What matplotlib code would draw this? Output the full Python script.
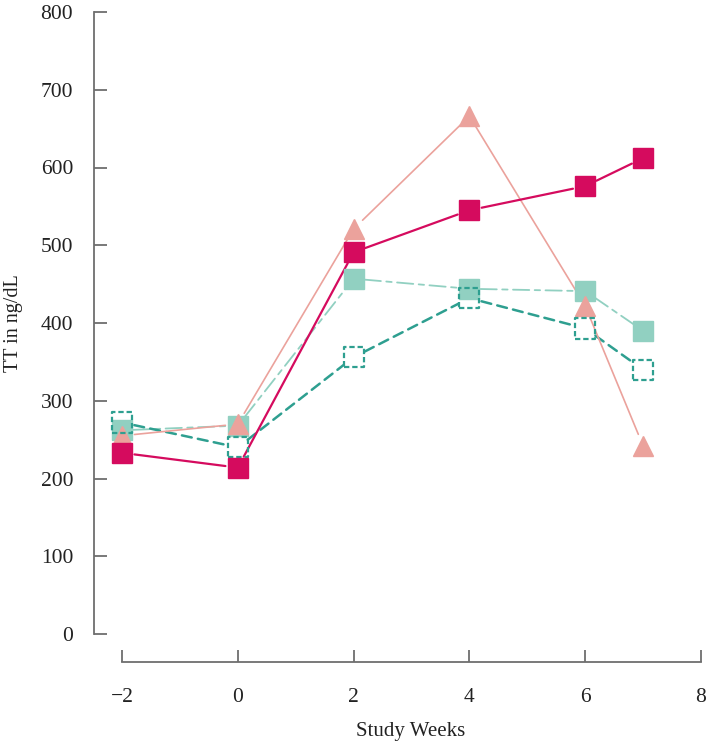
import matplotlib
matplotlib.use("Agg")
import matplotlib.pyplot as plt

plt.rcParams['font.family'] = ['Liberation Serif', 'DejaVu Serif']

# data
weeks = [-2, 0, 2, 4, 6, 7]
tt_magenta = [233, 214, 491, 545, 576, 612]   # filled square, solid
tt_pink = [255, 270, 521, 666, 422, 242]      # triangle, thin solid
tt_teal = [262, 268, 457, 444, 441, 390]      # filled square, dash-dot
tt_open = [272, 240, 356, 432, 393, 340]      # open square, dashed

x_ticks = [-2, 0, 2, 4, 6, 8]
y_ticks = [0, 100, 200, 300, 400, 500, 600, 700, 800]

magenta = "#D50B5E"
pink = "#EBA29C"
teal = "#91D0C1"
dark_teal = "#2E9F90"
axis_gray = "#6E6E6E"
text_col = "#222222"


def draw_line(ax, xs, ys, color, lw, ls, gap):
    # segments stop short of the markers like in the original
    for i in range(len(xs) - 1):
        ax.annotate('', xy=(xs[i + 1], ys[i + 1]), xytext=(xs[i], ys[i]),
                    arrowprops=dict(arrowstyle='-', color=color, lw=lw, ls=ls,
                                    shrinkA=gap, shrinkB=gap))


fig = plt.figure(figsize=(7.06, 7.48), dpi=100)
ax = fig.add_axes([94 / 706, 114 / 748, 612 / 706, 622 / 748])

draw_line(ax, weeks, tt_teal, teal, 1.3, (0, (9, 3, 3, 3)), 8)
draw_line(ax, weeks, tt_open, dark_teal, 1.8, (0, (4, 2.5)), 9)
draw_line(ax, weeks, tt_pink, pink, 1.2, '-', 9)
draw_line(ax, weeks, tt_magenta, magenta, 1.6, '-', 9)

ax.plot(weeks, tt_teal, ls='none', marker='s', ms=14, color=teal, mec=teal,
        clip_on=False, zorder=3)
ax.plot(weeks, tt_pink, ls='none', marker='^', ms=15, color=pink, mec=pink,
        clip_on=False, zorder=4)
ax.scatter(weeks, tt_open, marker='s', s=14.5 ** 2, facecolors='none',
           edgecolors=dark_teal, linewidths=1.6, linestyles=(0, (2.4, 1.3)),
           clip_on=False, zorder=5)
ax.plot(weeks, tt_magenta, ls='none', marker='s', ms=14, color=magenta,
        mec=magenta, clip_on=False, zorder=6)

ax.set_xlim(-2 - 28 / 57.8, 8 + 5 / 57.8)
ax.set_ylim(0, 800)
ax.set_xticks(x_ticks)
ax.set_yticks(y_ticks)
ax.set_xticklabels(['\u22122' if t < 0 else str(t) for t in x_ticks])

for side in ['top', 'right']:
    ax.spines[side].set_visible(False)
ax.spines['bottom'].set_position(('outward', 20))
ax.spines['bottom'].set_bounds(-2, 8)
ax.spines['left'].set_bounds(0, 800)
for side in ['left', 'bottom']:
    ax.spines[side].set_color(axis_gray)
    ax.spines[side].set_linewidth(1.3)

ax.tick_params(axis='both', direction='in', length=9, width=1.3,
               color=axis_gray, labelsize=15.5, labelcolor=text_col)
ax.tick_params(axis='y', pad=15)
ax.tick_params(axis='x', pad=19)

ax.set_ylabel('TT in ng/dL', fontsize=14.5, color=text_col)
ax.yaxis.set_label_coords((23 - 94) / 612, 0.5)
ax.set_xlabel('Study Weeks', fontsize=15, color=text_col)
ax.xaxis.set_label_coords((411 - 94) / 612, (634 - 722) / 622)

fig.savefig('out.png', dpi=100)
